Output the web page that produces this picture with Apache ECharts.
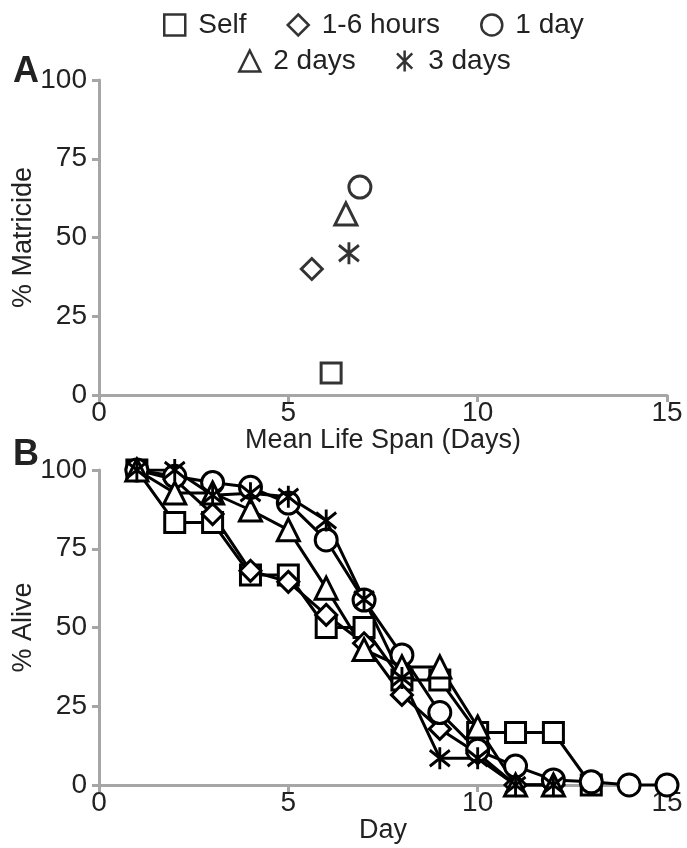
<!DOCTYPE html>
<html>
<head>
<meta charset="utf-8">
<script src="https://cdn.jsdelivr.net/npm/echarts@6/dist/echarts.min.js"></script>
<style>
  html, body { margin: 0; padding: 0; background: #fff; }
  #chart { width: 687px; height: 848px; }
</style>
</head>
<body>
<div id="chart"></div>
<script>
const seriesNames = ['Self', '1-6 hours', '1 day', '2 days', '3 days']

// panel A
const meanLifeSpan = [6.13, 5.62, 6.89, 6.52, 6.6]
const matricide = [7, 40, 66, 57.5, 45]

// panel B
const days = [1, 2, 3, 4, 5, 6, 7, 8, 9, 10, 11, 12, 13, 14, 15]
const aliveSelf = [100, 83.3, 83.3, 66.7, 66.7, 50, 50, 33.3, 33.3, 16.7, 16.7, 16.7, 0]
const aliveHours = [100, 97, 86, 68, 64.5, 54, 45, 28.6, 17.8, 10, 0, 0]
const aliveOneDay = [100, 98, 96, 94.5, 89.5, 77.8, 58.7, 41.3, 23, 11, 6, 1.6, 1, 0, 0]
const aliveTwoDays = [100, 92.7, 92.7, 87.3, 81, 62.5, 43, 37.5, 37.5, 18.4, 0, 0]
const aliveThreeDays = [100, 100, 92, 92.6, 91.5, 84, 59, 34, 8.5, 8.5, 0, 0]

const xTicks = [0, 5, 10, 15]
const yTicks = [0, 25, 50, 75, 100]

const asterisk = 'path://M10,0 L10,22 M2,3 L18,19 M2,19 L18,3'
const symbols = ['rect', 'diamond', 'circle', 'triangle', asterisk]
const sizes = [20, 21, 22, 22, [20, 22]]
const aliveData = [aliveSelf, aliveHours, aliveOneDay, aliveTwoDays, aliveThreeDays]

const font = '"Liberation Sans", Arial, sans-serif'
const grey = '#a6a6a6'
const ink = '#222'

const markStyle = { color: '#fff', borderColor: '#000', borderWidth: 3 }

const makeXAxis = (idx, name, gap) => ({
  gridIndex: idx,
  type: 'value',
  min: xTicks[0],
  max: xTicks[xTicks.length - 1],
  interval: 5,
  name: name,
  nameLocation: 'middle',
  nameGap: gap,
  nameMoveOverlap: false,
  nameTextStyle: { fontFamily: font, fontSize: 27, color: ink },
  axisLine: { lineStyle: { color: grey, width: 3 } },
  axisTick: { show: true, length: 7, lineStyle: { color: grey, width: 3 } },
  axisLabel: { fontFamily: font, fontSize: 28, color: ink, margin: 4 },
  splitLine: { show: false }
})

const makeYAxis = (idx, name) => ({
  gridIndex: idx,
  type: 'value',
  min: yTicks[0],
  max: yTicks[yTicks.length - 1],
  interval: 25,
  name: name,
  nameLocation: 'middle',
  nameRotate: 90,
  nameGap: 62,
  nameMoveOverlap: false,
  nameTextStyle: { fontFamily: font, fontSize: 27, color: ink },
  axisLine: { show: true, lineStyle: { color: grey, width: 3 } },
  axisTick: { show: true, length: 7, lineStyle: { color: grey, width: 3 } },
  axisLabel: { fontFamily: font, fontSize: 28, color: ink, margin: 12 },
  splitLine: { show: false }
})

const scatterSeries = seriesNames.map((n, i) => ({
  name: n,
  type: 'scatter',
  xAxisIndex: 0,
  yAxisIndex: 0,
  symbol: symbols[i],
  symbolSize: sizes[i],
  itemStyle: markStyle,
  data: [[meanLifeSpan[i], matricide[i]]]
}))

const lineSeries = seriesNames.map((n, i) => ({
  name: n,
  type: 'line',
  xAxisIndex: 1,
  yAxisIndex: 1,
  symbol: symbols[i],
  symbolSize: sizes[i],
  showAllSymbol: true,
  lineStyle: { color: '#000', width: 3 },
  itemStyle: markStyle,
  data: aliveData[i].map((v, j) => [days[j], v])
}))

const legendBase = {
  orient: 'horizontal',
  itemWidth: 21,
  itemHeight: 21,
  itemGap: 40,
  textStyle: { fontFamily: font, fontSize: 28, color: ink, padding: [0, 0, 0, 8] },
  itemStyle: { color: '#fff', borderColor: '#000', borderWidth: 2.5 }
}

const chart = echarts.init(document.getElementById('chart'))
chart.setOption({
  animation: false,
  backgroundColor: '#fff',
  legend: [
    Object.assign({}, legendBase, {
      left: 158,
      top: 6,
      data: seriesNames.slice(0, 3).map((n, i) => ({ name: n, icon: symbols[i] }))
    }),
    Object.assign({}, legendBase, {
      left: 233,
      top: 42,
      data: seriesNames.slice(3).map((n, i) => ({ name: n, icon: symbols[i + 3] }))
    })
  ],
  grid: [
    { left: 99, top: 80, width: 568, height: 315, outerBoundsMode: 'none' },
    { left: 99, top: 470, width: 568, height: 315, outerBoundsMode: 'none' }
  ],
  xAxis: [makeXAxis(0, 'Mean Life Span (Days)', 32), makeXAxis(1, 'Day', 32)],
  yAxis: [makeYAxis(0, '% Matricide'), makeYAxis(1, '% Alive')],
  graphic: [
    { type: 'text', left: 13, top: 54, style: { text: 'A', font: 'bold 36px ' + font, fill: ink } },
    { type: 'text', left: 13, top: 437, style: { text: 'B', font: 'bold 36px ' + font, fill: ink } }
  ],
  series: scatterSeries.concat(lineSeries)
})
</script>
</body>
</html>
